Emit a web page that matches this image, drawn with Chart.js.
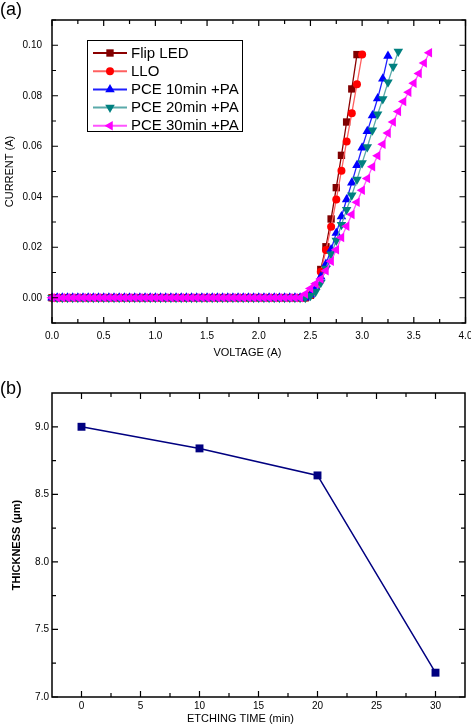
<!DOCTYPE html>
<html><head><meta charset="utf-8">
<script src="https://cdn.jsdelivr.net/npm/chart.js@4/dist/chart.umd.min.js"></script>
<style>
html,body{margin:0;padding:0;background:#fff;width:471px;height:727px;overflow:hidden;}
#wrap{position:relative;width:471px;height:727px;}
canvas{position:absolute;left:0;}
.plab{position:absolute;left:0;font:18px "Liberation Sans",Arial,sans-serif;color:#000;line-height:1;}
</style></head><body>
<div id="wrap">
<canvas id="ca" width="471" height="362" style="top:0px"></canvas>
<canvas id="cb" width="471" height="365" style="top:362px"></canvas>
<div class="plab" style="top:0px">(a)</div>
<div class="plab" style="top:379px">(b)</div>
</div>
<script>
// ---------- panel (a) data ----------
const voltage = [
 0,0.05,0.1,0.15,0.2,0.25,0.3,0.35,0.4,0.45,
 0.5,0.55,0.6,0.65,0.7,0.75,0.8,0.85,0.9,0.95,
 1,1.05,1.1,1.15,1.2,1.25,1.3,1.35,1.4,1.45,
 1.5,1.55,1.6,1.65,1.7,1.75,1.8,1.85,1.9,1.95,
 2,2.05,2.1,2.15,2.2,2.25,2.3,2.35,2.4,2.45,
 2.5,2.55,2.6,2.65,2.7,2.75,2.8,2.85,2.9,2.95,
 3,3.05,3.1,3.15,3.2,3.25,3.3,3.35,3.4,3.45,
 3.5,3.55,3.6,3.65];
const seriesNames = ['Flip LED','LLO','PCE 10min +PA','PCE 20min +PA','PCE 30min +PA'];
const flipLED = [
 0,0,0,0,0,0,0,0,0,0, 0,0,0,0,0,0,0,0,0,0, 0,0,0,0,0,0,0,0,0,0,
 0,0,0,0,0,0,0,0,0,0, 0,0,0,0,0,0,0,0,0,0,
 0.001,0.0045,0.0112,0.0202,0.0312,0.0436,0.0564,0.0696,0.0827,0.0963];
const llo = [
 0,0,0,0,0,0,0,0,0,0, 0,0,0,0,0,0,0,0,0,0, 0,0,0,0,0,0,0,0,0,0,
 0,0,0,0,0,0,0,0,0,0, 0,0,0,0,0,0,0,0,0,0,
 0.001,0.004,0.0103,0.0189,0.0281,0.0389,0.0503,0.0619,0.0731,0.0846,0.0963];
const pce10 = [
 0,0,0,0,0,0,0,0,0,0, 0,0,0,0,0,0,0,0,0,0, 0,0,0,0,0,0,0,0,0,0,
 0,0,0,0,0,0,0,0,0,0, 0,0,0,0,0,0,0,0,0,0,
 0.0012,0.0043,0.0083,0.0134,0.0191,0.0256,0.0322,0.0389,0.0455,0.0525,
 0.0594,0.0659,0.0722,0.0789,0.0867,0.0957];
const pce20 = [
 0,0,0,0,0,0,0,0,0,0, 0,0,0,0,0,0,0,0,0,0, 0,0,0,0,0,0,0,0,0,0,
 0,0,0,0,0,0,0,0,0,0, 0,0,0,0,0,0,0,0,0,0,
 0.0008,0.0024,0.0059,0.0116,0.0172,0.0227,0.0289,0.0349,0.0406,0.0468,
 0.0534,0.0597,0.0663,0.0727,0.0787,0.0853,0.0916,0.0975];
const pce30 = [
 0,0,0,0,0,0,0,0,0,0, 0,0,0,0,0,0,0,0,0,0, 0,0,0,0,0,0,0,0,0,0,
 0,0,0,0,0,0,0,0,0,0, 0,0,0,0,0,0,0,0,0,0.0015,
 0.0037,0.0055,0.0074,0.0107,0.0145,0.019,0.0239,0.0283,0.033,0.0378,
 0.0426,0.0472,0.0519,0.0562,0.0608,0.0652,0.0696,0.0738,0.0777,0.0814,
 0.085,0.0888,0.093,0.097];
const xTicksA = [0,0.5,1,1.5,2,2.5,3,3.5,4];
const xMinorA = [0.25,0.75,1.25,1.75,2.25,2.75,3.25,3.75];
const yTicksA = [0,0.02,0.04,0.06,0.08,0.1];
const yMinorA = [-0.01,0.01,0.03,0.05,0.07,0.09,0.11];

// ---------- panel (b) data ----------
const etchTime = [0,10,20,30];
const thickness = [9.0,8.84,8.64,7.18];
const xTicksB = [0,5,10,15,20,25,30];
const xMinorB = [2.5,7.5,12.5,17.5,22.5,27.5];
const yTicksB = [7.0,7.5,8.0,8.5,9.0];
const yMinorB = [7.25,7.75,8.25,8.75];

const FONT = '"Liberation Sans", Arial, Helvetica, sans-serif';
Chart.defaults.font.family = FONT;
Chart.defaults.color = '#000';

function marker(ctx, style, rot, r, x, y){
  ctx.beginPath();
  if(style==='circle'){ ctx.arc(x,y,r,0,Math.PI*2); }
  else if(style==='rect'){ const s=r*Math.SQRT1_2; ctx.rect(x-s,y-s,2*s,2*s); }
  else { let a=(rot||0)*Math.PI/180; for(let k=0;k<3;k++){ const px=x+Math.sin(a)*r, py=y-Math.cos(a)*r; if(k) ctx.lineTo(px,py); else ctx.moveTo(px,py); a+=2*Math.PI/3; } ctx.closePath(); }
  ctx.fill();
}

const frameTicks = {
  id:'frameTicks',
  afterDraw(chart, args, o){
    const {ctx, chartArea:{left,right,top,bottom}, scales:{x,y}} = chart;
    ctx.save();
    ctx.strokeStyle='#000'; ctx.lineWidth=1.5;
    ctx.strokeRect(left,top,right-left,bottom-top);
    ctx.lineWidth=1.2; ctx.beginPath();
    const doX=(vals,len)=>vals.forEach(v=>{const p=x.getPixelForValue(v); ctx.moveTo(p,bottom); ctx.lineTo(p,bottom-len); ctx.moveTo(p,top); ctx.lineTo(p,top+len);});
    const doY=(vals,len)=>vals.forEach(v=>{const p=y.getPixelForValue(v); ctx.moveTo(left,p); ctx.lineTo(left+len,p); ctx.moveTo(right,p); ctx.lineTo(right-len,p);});
    doX(o.xMajor,6); doX(o.xMinor,4); doY(o.yMajor,6); doY(o.yMinor,4);
    ctx.stroke(); ctx.restore();
  }
};
const legendBox = {
  id:'legendBox',
  afterDraw(chart, args, o){
    if(!o || !o.show) return;
    const ctx=chart.ctx; ctx.save();
    ctx.strokeStyle='#000'; ctx.lineWidth=1;
    ctx.strokeRect(o.x+0.5,o.y+0.5,o.w,o.h);
    chart.data.datasets.forEach((ds,i)=>{
      const cy=o.y+o.first+i*o.step;
      ctx.strokeStyle=ds.borderColor; ctx.lineWidth=2;
      ctx.beginPath(); ctx.moveTo(o.x+6,cy); ctx.lineTo(o.x+40,cy); ctx.stroke();
      ctx.fillStyle=ds.pointBackgroundColor;
      marker(ctx, ds.pointStyle, ds.pointRotation, ds.pointRadius, o.x+23, cy);
      ctx.fillStyle='#000'; ctx.font='15px '+FONT; ctx.textAlign='left'; ctx.textBaseline='middle';
      ctx.fillText(ds.label, o.x+44, cy+0.5);
    });
    ctx.restore();
  }
};
const xTitle = {
  id:'xTitle',
  afterDraw(chart, args, o){
    const ctx=chart.ctx; ctx.save();
    ctx.fillStyle='#000'; ctx.font=o.font; ctx.textAlign='center'; ctx.textBaseline='middle';
    ctx.fillText(o.text, o.x, o.y); ctx.restore();
  }
};

function mk(vals){ return vals.map((v,i)=>({x:voltage[i], y:v})); }
const styleA = [
  {line:'#8b0000', fill:'#800000', ps:'rect', rot:0, r:5.2, order:5},
  {line:'#ff6060', fill:'#ff0000', ps:'circle', rot:0, r:4, order:4},
  {line:'#2020ff', fill:'#0000ff', ps:'triangle', rot:0, r:5.5, order:3},
  {line:'#5aaaaa', fill:'#008080', ps:'triangle', rot:180, r:5.5, order:2},
  {line:'#ff55ff', fill:'#ff00ff', ps:'triangle', rot:-90, r:5.5, order:1}
];
const valsA = [flipLED, llo, pce10, pce20, pce30];

new Chart(document.getElementById('ca'), {
  type:'line',
  data:{ datasets: valsA.map((v,i)=>({
    label: seriesNames[i], data: mk(v),
    borderColor: styleA[i].line, borderWidth:1.3, tension:0,
    pointStyle: styleA[i].ps, pointRotation: styleA[i].rot, pointRadius: styleA[i].r,
    pointBackgroundColor: styleA[i].fill, pointBorderColor: styleA[i].fill, pointBorderWidth:0,
    order: styleA[i].order, clip:false
  })) },
  options:{
    responsive:false, animation:false, devicePixelRatio:1,
    layout:{padding:{top:20,right:5,left:0,bottom:0}},
    plugins:{
      legend:{display:false}, tooltip:{enabled:false},
      frameTicks:{xMajor:xTicksA,xMinor:xMinorA,yMajor:yTicksA,yMinor:yMinorA},
      legendBox:{show:true,x:87,y:40,w:155,h:91,first:13,step:18.2},
      xTitle:{text:'VOLTAGE (A)', font:'11px '+FONT, x:247.5, y:353}
    },
    scales:{
      x:{type:'linear', min:0, max:4,
        grid:{display:false, drawTicks:false}, border:{display:false},
        afterBuildTicks:s=>{ s.ticks = xTicksA.map(v=>({value:v})); },
        afterFit:s=>{ s.height=39; s.paddingLeft=0; s.paddingRight=0; },
        ticks:{padding:7, font:{size:10}, color:'#000', maxRotation:0, autoSkip:false, callback:v=>Number(v).toFixed(1)}
      },
      y:{type:'linear', min:-0.01, max:0.11,
        grid:{display:false, drawTicks:false}, border:{display:false},
        afterBuildTicks:s=>{ s.ticks = yTicksA.map(v=>({value:v})); },
        afterFit:s=>{ s.width=52; s.paddingTop=0; s.paddingBottom=0; },
        ticks:{padding:10, font:{size:10}, color:'#000', autoSkip:false, callback:v=>Number(v).toFixed(2)},
        title:{display:true, text:'CURRENT (A)', font:{size:11}, color:'#000', padding:{top:3,bottom:0}}
      }
    }
  },
  plugins:[frameTicks, legendBox, xTitle]
});

new Chart(document.getElementById('cb'), {
  type:'line',
  data:{ datasets:[{
    label:'THICKNESS', data: etchTime.map((t,i)=>({x:t, y:thickness[i]})),
    borderColor:'#000080', borderWidth:1.5, tension:0,
    pointStyle:'rect', pointRadius:5.6, pointBackgroundColor:'#000080', pointBorderColor:'#000080', pointBorderWidth:0,
    clip:false
  }]},
  options:{
    responsive:false, animation:false, devicePixelRatio:1,
    layout:{padding:{top:31,right:6,left:0,bottom:0}},
    plugins:{
      legend:{display:false}, tooltip:{enabled:false},
      frameTicks:{xMajor:xTicksB,xMinor:xMinorB,yMajor:yTicksB,yMinor:yMinorB},
      legendBox:{show:false},
      xTitle:{text:'ETCHING TIME (min)', font:'11px '+FONT, x:240.5, y:357}
    },
    scales:{
      x:{type:'linear', min:-2.5, max:32.5,
        grid:{display:false, drawTicks:false}, border:{display:false},
        afterBuildTicks:s=>{ s.ticks = xTicksB.map(v=>({value:v})); },
        afterFit:s=>{ s.height=30; s.paddingLeft=0; s.paddingRight=0; },
        ticks:{padding:3, font:{size:10}, color:'#000', maxRotation:0, autoSkip:false, callback:v=>String(v)}
      },
      y:{type:'linear', min:7.0, max:9.25,
        grid:{display:false, drawTicks:false}, border:{display:false},
        afterBuildTicks:s=>{ s.ticks = yTicksB.map(v=>({value:v})); },
        afterFit:s=>{ s.width=52; s.paddingTop=0; s.paddingBottom=0; },
        ticks:{padding:3, font:{size:10}, color:'#000', autoSkip:false, callback:v=>Number(v).toFixed(1)},
        title:{display:true, text:'THICKNESS (μm)', font:{size:11, weight:'bold'}, color:'#000', padding:{top:10.5,bottom:0}}
      }
    }
  },
  plugins:[frameTicks, legendBox, xTitle]
});
</script>
</body></html>
